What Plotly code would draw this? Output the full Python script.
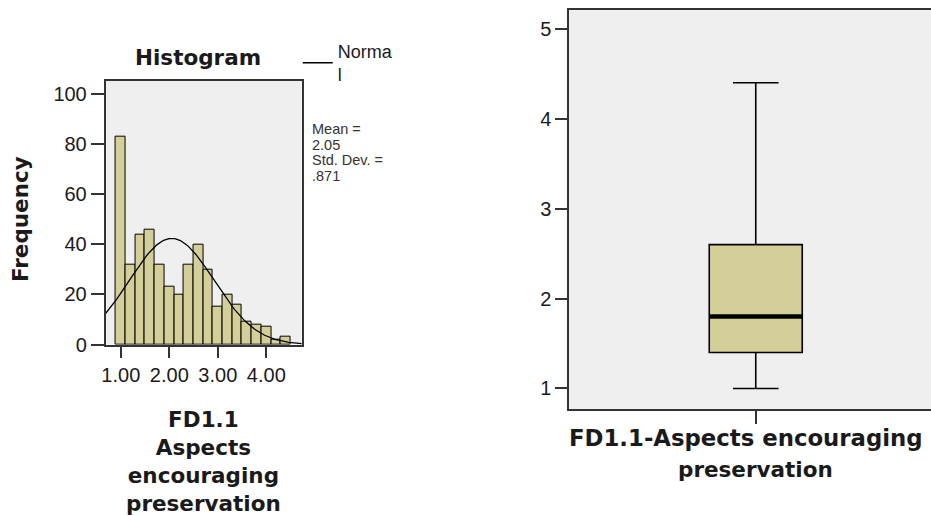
import numpy as np
import plotly.graph_objects as go

# ---------------- data ----------------
bin_centers = [1.0, 1.2, 1.4, 1.6, 1.8, 2.0, 2.2, 2.4, 2.6, 2.8,
               3.0, 3.2, 3.4, 3.6, 3.8, 4.0, 4.2, 4.4]
bin_counts = [83, 32, 44, 46, 32, 23, 20, 32, 40, 30,
              15, 20, 16, 9, 8, 7, 2, 3]
bin_width = 0.2
mean_val = 2.05
sd_val = 0.871
hist_xticks = [1, 2, 3, 4]
hist_xticktext = ["1.00", "2.00", "3.00", "4.00"]
hist_yticks = [0, 20, 40, 60, 80, 100]
stats_lines = ["Mean =", "2.05", "Std. Dev. =", ".871"]

box_q1 = [1.4]
box_median = [1.8]
box_q3 = [2.6]
box_lower = [1.0]
box_upper = [4.4]
box_yticks = [1, 2, 3, 4, 5]

# ---------------- styling helpers ----------------
W, H = 931, 516
FIG_H = 525
px = lambda v: v / W
py = lambda v: 1 - v / H

FILL = "#D4CF98"
BG = "#EFEFEF"
AX = "#333333"
TXT = "#1a1a1a"
TICKFONT = dict(family="Liberation Sans, Arial", size=20, color=TXT)
TITLEFONT = dict(family="DejaVu Sans", size=21.5, color=TXT, weight="bold")

fig = go.Figure()

# histogram bars
fig.add_trace(go.Bar(
    x=bin_centers, y=bin_counts, width=bin_width,
    marker=dict(color=FILL, line=dict(color="black", width=1)),
    xaxis="x", yaxis="y", showlegend=False, hoverinfo="x+y"))

# fitted normal curve
n_total = sum(bin_counts)
xc = np.linspace(0.686, 4.73, 200)
yc = n_total * bin_width / (sd_val * np.sqrt(2 * np.pi)) * np.exp(-0.5 * ((xc - mean_val) / sd_val) ** 2)
fig.add_trace(go.Scatter(
    x=xc, y=yc, mode="lines", line=dict(color="black", width=1.3),
    name="Norma<br>l", xaxis="x", yaxis="y", showlegend=True))

# box plot
BOXW = 0.4987
fig.add_trace(go.Box(
    x=[0], q1=box_q1, median=box_median, q3=box_q3,
    lowerfence=box_lower, upperfence=box_upper,
    width=BOXW, whiskerwidth=0.49, fillcolor=FILL,
    line=dict(color="black", width=1.6),
    xaxis="x2", yaxis="y2", showlegend=False, boxpoints=False))
# thick median line
fig.add_trace(go.Scatter(
    x=[-BOXW / 2, BOXW / 2], y=box_median * 2, mode="lines",
    line=dict(color="black", width=4.5),
    xaxis="x2", yaxis="y2", showlegend=False, hoverinfo="skip"))

common_axis = dict(showgrid=False, zeroline=False, showline=True,
                   linecolor=AX, linewidth=1.6, ticks="outside",
                   tickcolor=AX, tickwidth=1.6, tickfont=TICKFONT)

fig.update_layout(
    width=W, height=FIG_H,
    margin=dict(l=0, r=0, t=0, b=0),
    paper_bgcolor="white", plot_bgcolor=BG,
    bargap=0,
    xaxis=dict(domain=[px(102), px(299)], range=[0.686, 4.73],
               tickvals=hist_xticks, ticktext=hist_xticktext,
               ticklen=12, mirror=True, anchor="y", **common_axis),
    yaxis=dict(domain=[py(346), py(81)], range=[0, 105.2],
               tickvals=hist_yticks, ticklen=13, mirror=True,
               anchor="x", **common_axis),
    xaxis2=dict(domain=[px(567.7), 1], range=[-1, 0.9397],
                tickvals=[0], ticktext=[""], ticklen=13, mirror=True,
                anchor="y2", **common_axis),
    yaxis2=dict(domain=[py(410.7), py(10)], range=[0.77, 5.21],
                tickvals=box_yticks, ticklen=12, mirror=False,
                anchor="x2", **common_axis),
    legend=dict(x=px(295), y=py(33), xanchor="left", yanchor="top",
                bgcolor="rgba(0,0,0,0)", borderwidth=0, tracegroupgap=0,
                font=dict(family="Liberation Sans, Arial", size=18, color=TXT)),
    showlegend=True,
)

ann = []
ann.append(dict(text="Histogram", x=px(195), y=py(58), xref="paper", yref="paper",
                xanchor="center", yanchor="middle", showarrow=False, font=TITLEFONT))
ann.append(dict(text="Frequency", x=px(16), y=py(220), xref="paper", yref="paper",
                xanchor="center", yanchor="middle", textangle=-90, showarrow=False,
                font=TITLEFONT))
ann.append(dict(text="FD1.1<br>Aspects<br>encouraging<br>preservation",
                x=px(200), y=py(407), xref="paper", yref="paper",
                xanchor="center", yanchor="top", align="center", showarrow=False,
                font=TITLEFONT))
ann.append(dict(text="FD1.1-Aspects encouraging", x=px(745), y=py(440),
                xref="paper", yref="paper", xanchor="center", yanchor="middle",
                showarrow=False, font=dict(TITLEFONT, size=22.8)))
ann.append(dict(text="preservation", x=px(755), y=py(471),
                xref="paper", yref="paper", xanchor="center", yanchor="middle",
                showarrow=False, font=TITLEFONT))
for i, line in enumerate(stats_lines):
    ann.append(dict(text=line, x=px(307), y=py(130 + 15.5 * i), xref="paper", yref="paper",
                    xanchor="left", yanchor="middle", showarrow=False,
                    font=dict(family="Liberation Sans, Arial", size=14.5, color="#333333")))
fig.update_layout(annotations=ann)

fig.write_html(
    "out.html",
    config={"displayModeBar": False},
    post_script="document.documentElement.style.margin='0';document.body.style.margin='0';"
                "document.documentElement.style.overflow='hidden';document.body.style.overflow='hidden';")
